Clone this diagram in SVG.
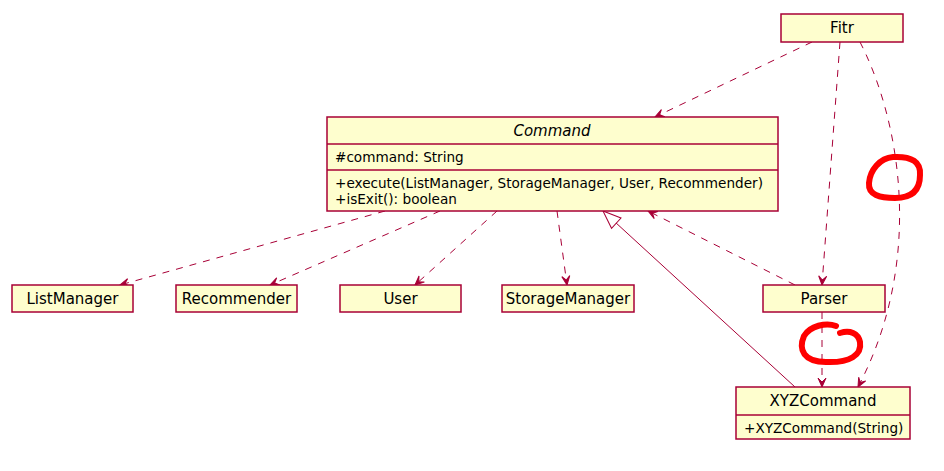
<svg xmlns="http://www.w3.org/2000/svg" width="944" height="471" viewBox="0 0 944 471">
<defs>
<style>
.box{fill:#FEFECE;stroke:#A80036;stroke-width:1.5}
.sep{stroke:#A80036;stroke-width:1.5}
.t{font-family:"DejaVu Sans",sans-serif;font-size:15px;fill:#000;text-anchor:middle}
.m{font-family:"DejaVu Sans",sans-serif;font-size:13.6px;fill:#000}
.dep{fill:none;stroke:#A80036;stroke-width:1;stroke-dasharray:7,7}
.sol{fill:none;stroke:#A80036;stroke-width:1}
.red{fill:none;stroke:#FF0000;stroke-width:6;stroke-linecap:round;stroke-linejoin:round}
</style>
<marker id="arr" viewBox="-10 -5 12 10" refX="0" refY="0" markerWidth="12" markerHeight="10" markerUnits="userSpaceOnUse" orient="auto">
<path d="M0,0 L-9,-4 L-5,0 L-9,4 Z" fill="#A80036" stroke="#A80036" stroke-width="1"/>
</marker>
<marker id="tri" viewBox="-20 -9 22 18" refX="0" refY="0" markerWidth="22" markerHeight="18" markerUnits="userSpaceOnUse" orient="auto">
<path d="M0,0 L-18,-7 L-18,7 Z" fill="#FFFFFF" stroke="#A80036" stroke-width="1"/>
</marker>
</defs>
<rect width="944" height="471" fill="#FFFFFF"/>
<g id="connectors">
<path class="dep" d="M812,42 L655,117" marker-end="url(#arr)"/>
<path class="dep" d="M840,42 L822,285" marker-end="url(#arr)"/>
<path class="dep" d="M860,42 C900,120 925,260 858,387" marker-end="url(#arr)"/>
<path class="dep" d="M385,211 L120,285" marker-end="url(#arr)"/>
<path class="dep" d="M440,211 L270,285" marker-end="url(#arr)"/>
<path class="dep" d="M497,211 L415,285" marker-end="url(#arr)"/>
<path class="dep" d="M557,211 L567,285" marker-end="url(#arr)"/>
<path class="dep" d="M795,285 L648,211" marker-end="url(#arr)"/>
<path class="sol" d="M795,387 L603,211" marker-end="url(#tri)"/>
<path class="dep" d="M822,312 L822,387" marker-end="url(#arr)"/>
</g>
<g id="Fitr">
<rect class="box" x="781" y="14" width="122" height="28"/>
<text class="t" x="842" y="33">Fitr</text>
</g>
<g id="Command">
<rect class="box" x="327" y="117" width="451" height="94"/>
<line class="sep" x1="327" y1="144" x2="778" y2="144"/>
<line class="sep" x1="327" y1="170" x2="778" y2="170"/>
<text class="t" x="552" y="136" font-style="italic">Command</text>
<text class="m" x="335" y="162">#command: String</text>
<text class="m" x="335" y="188">+execute(ListManager, StorageManager, User, Recommender)</text>
<text class="m" x="335" y="204">+isExit(): boolean</text>
</g>
<g id="ListManager">
<rect class="box" x="12" y="285" width="121" height="27"/>
<text class="t" x="72.5" y="304">ListManager</text>
</g>
<g id="Recommender">
<rect class="box" x="176" y="285" width="121" height="27"/>
<text class="t" x="236.5" y="304">Recommender</text>
</g>
<g id="User">
<rect class="box" x="340" y="285" width="121" height="27"/>
<text class="t" x="400.5" y="304">User</text>
</g>
<g id="StorageManager">
<rect class="box" x="502" y="285" width="132" height="27"/>
<text class="t" x="568" y="304">StorageManager</text>
</g>
<g id="Parser">
<rect class="box" x="763" y="285" width="122" height="27"/>
<text class="t" x="824" y="304">Parser</text>
</g>
<g id="XYZCommand">
<rect class="box" x="736" y="387" width="174" height="52"/>
<line class="sep" x1="736" y1="415" x2="910" y2="415"/>
<text class="t" x="823" y="406">XYZCommand</text>
<text class="m" x="744" y="433">+XYZCommand(String)</text>
</g>
<g id="annotations">
<path class="red" d="M893,157 C880,158 870,170 869,183 C868,195 880,198 895,198 C912,198 920,190 920,175 C921,162 912,156 893,157 Z"/>
<path class="red" d="M836,326 C826,322 810,326 804,336 C798,350 804,362 826,362 C850,363 862,355 860,342 C858,333 850,330 840,333"/>
</g>
</svg>
